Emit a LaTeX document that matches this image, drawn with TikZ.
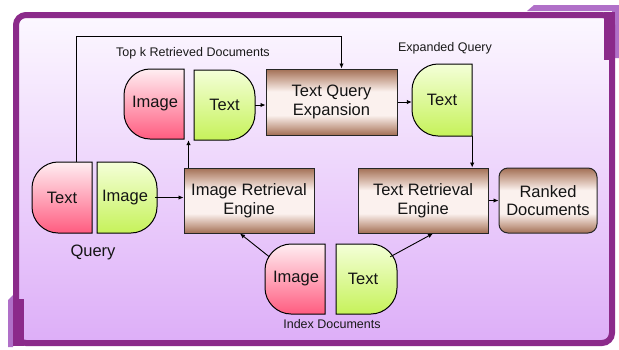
\documentclass[tikz,border=0pt]{standalone}
\usepackage{fontspec}
\setmainfont{Liberation Sans}
\usetikzlibrary{arrows.meta}
\definecolor{frameP}{HTML}{8B2A8A}
\definecolor{tabP}{HTML}{B070C8}
\definecolor{bgTop}{HTML}{FCF8FF}
\definecolor{bgBot}{HTML}{DDAEF8}
\definecolor{pinkT}{HTML}{FFEEF2}
\definecolor{pinkB}{HTML}{FF5C80}
\definecolor{greenT}{HTML}{F4FFD8}
\definecolor{greenB}{HTML}{C6F25A}
\definecolor{brownD}{HTML}{A26F55}
\definecolor{brownL}{HTML}{FBF1EE}
\definecolor{brownM}{HTML}{C9A593}
\pgfdeclareverticalshading{brownsh}{100bp}{color(0bp)=(brownD); color(25bp)=(brownD); color(31bp)=(brownM); color(40bp)=(brownL); color(58bp)=(brownL); color(68bp)=(brownM); color(75bp)=(brownD); color(100bp)=(brownD)}
\newcommand{\Lshape}[5]{%
  \shadedraw[#5] (#3,#2) -- (#1+26,#2) .. controls (#1+12,#2) and (#1,#2+12) .. (#1,#2+26)
    -- (#1,#4-26) .. controls (#1,#4-12) and (#1+12,#4) .. (#1+26,#4) -- (#3,#4) -- cycle;}
\newcommand{\Rshape}[5]{%
  \shadedraw[#5] (#1,#2) -- (#3-26,#2) .. controls (#3-12,#2) and (#3,#2+12) .. (#3,#2+26)
    -- (#3,#4-26) .. controls (#3,#4-12) and (#3-12,#4) .. (#3-26,#4) -- (#1,#4) -- cycle;}
\begin{document}
\begin{tikzpicture}[x=1pt,y=-1pt,
  lbl/.style={font=\fontsize{16.5}{18.5}\selectfont, text=black!92, inner sep=0, align=center},
  small/.style={font=\fontsize{12.5}{14}\selectfont, text=black!90, inner sep=0},
  pinkF/.style={top color=pinkT, bottom color=pinkB, draw=black, line width=1},
  greenF/.style={top color=greenT, bottom color=greenB, draw=black, line width=1},
  brownbox/.style={lbl, draw=black!85, line width=1, shading=brownsh},
  arr/.style={-{Latex[length=5pt,width=4.5pt]}, line width=0.9}]
\useasboundingbox (0,0) rectangle (619,349);
% frame
\fill[tabP] (527,11) -- (534,5) -- (619,5) -- (619,58) -- (612,58) -- (612,11) -- cycle;
\fill[tabP] (8,300) -- (13,295) -- (13,347) -- (8,347) -- cycle;
\shadedraw[top color=bgTop, bottom color=bgBot, draw=frameP, line width=6, rounded corners=10] (16,15) rectangle (612,343);
\fill[frameP] (604,12) rectangle (615,60);
\fill[frameP] (13,299) rectangle (24,346);
% half-round shapes
\Lshape{124}{69}{184}{139}{pinkF}
\Rshape{194}{70}{255}{140}{greenF}
\Lshape{412}{64}{472}{136}{greenF}
\Lshape{32}{162}{92}{233}{pinkF}
\Rshape{97}{162}{157}{233}{greenF}
\Lshape{265}{244}{325}{314}{pinkF}
\Rshape{336}{244}{397}{314}{greenF}
% nodes
\node[lbl, minimum width=60, minimum height=70] (ti) at (155,104) {Image};
\node[lbl, minimum width=61, minimum height=70] (tt) at (224.5,105) {Text};
\node[lbl, minimum width=60, minimum height=72] (ex) at (442,100) {Text};
\node[lbl, minimum width=60, minimum height=71] (qt) at (62,197.5) {Text};
\node[lbl, minimum width=60, minimum height=71] (qi) at (125,197.5) {Image};
\node[lbl, minimum width=60, minimum height=70] (ii) at (296,279) {Image};
\node[lbl, minimum width=61, minimum height=70] (it) at (363,279) {Text};
\node[brownbox, minimum width=131, minimum height=66] (tqe) at (331.5,102) {Text Query\\Expansion};
\node[brownbox, minimum width=130, minimum height=65] (ire) at (249,200.5) {Image Retrieval\\Engine};
\node[brownbox, minimum width=130, minimum height=65] (tre) at (423,200.5) {Text Retrieval\\Engine};
\node[brownbox, rounded corners=9, minimum width=98, minimum height=65] (rk) at (548,200.5) {Ranked\\Documents};
% labels
\node[small] (ltop) at (193,53) {Top k Retrieved Documents};
\node[small] (lexp) at (445,48) {Expanded Query};
\node[lbl] (lq) at (93,252) {Query};
\node[small] (lidx) at (332,324) {Index Documents};
% connectors
\draw[arr] ([xshift=14]qt.north) -- ++(0,-125) -| ([xshift=10]tqe.north);
\draw[arr] (qi.east) -- (qi.east -| ire.west);
\coordinate (c3) at ([xshift=5]ire.north west);
\draw[arr] (c3) -- (c3 |- tt.south);
\draw[arr] (tt.east) -- (tt.east -| tqe.west);
\draw[arr] (tqe.east) -- (tqe.east -| ex.west);
\draw[arr] (ex.south east) -- (ex.south east |- tre.north);
\draw[arr] (tre.east) -- (tre.east -| rk.west);
\draw[arr] ([shift={(3.5,13)}]ii.north west) -- ([xshift=-9]ire.south);
\draw[arr] ([shift={(-3.5,13)}]it.north east) -- ([xshift=10]tre.south);
\end{tikzpicture}
\end{document}
